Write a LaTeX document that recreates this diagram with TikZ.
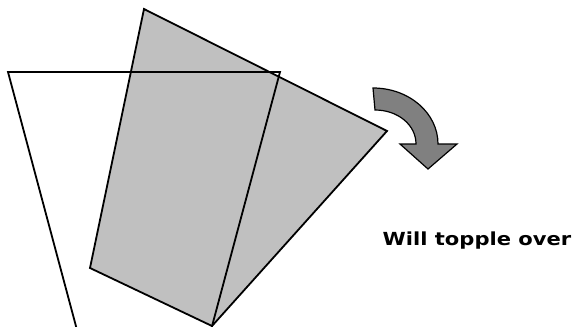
\documentclass[tikz,border=0pt]{standalone}
\usepackage{fontspec}
\setmainfont{DejaVu Sans}
\newfontfamily\notefont[FakeStretch=1.17]{DejaVu Sans}
\definecolor{Block}{HTML}{C0C0C0}
\definecolor{Turn}{HTML}{808080}

\begin{document}
\begin{tikzpicture}[x=1pt,y=-1pt,line join=miter,
        outline/.style={draw=black,line width=1.8pt},
        note/.style={inner sep=0pt,font=\notefont\fontsize{18}{21}\selectfont\bfseries}]
  \useasboundingbox (0,0) rectangle (579,327);
  % block after tipping about its lower right corner
  \draw[outline,fill=Block] (144,9) -- (387,131) -- (212,326) -- (90,268) -- cycle;
  % block standing upright
  \draw[outline] (77,330) -- (8,72) -- (280,72) -- (211,330);
  % turning arrow
  \draw[draw=black,line width=1.2pt,fill=Turn]
    (373,88) .. controls (409,88) and (438,113) .. (438,144)
    -- (457,144) -- (428,169) -- (400,144) -- (416,144)
    .. controls (416,125) and (398,110) .. (375,110) -- cycle;
  \node[note] (topple) at (477,241) {Will topple over};
\end{tikzpicture}
\end{document}
